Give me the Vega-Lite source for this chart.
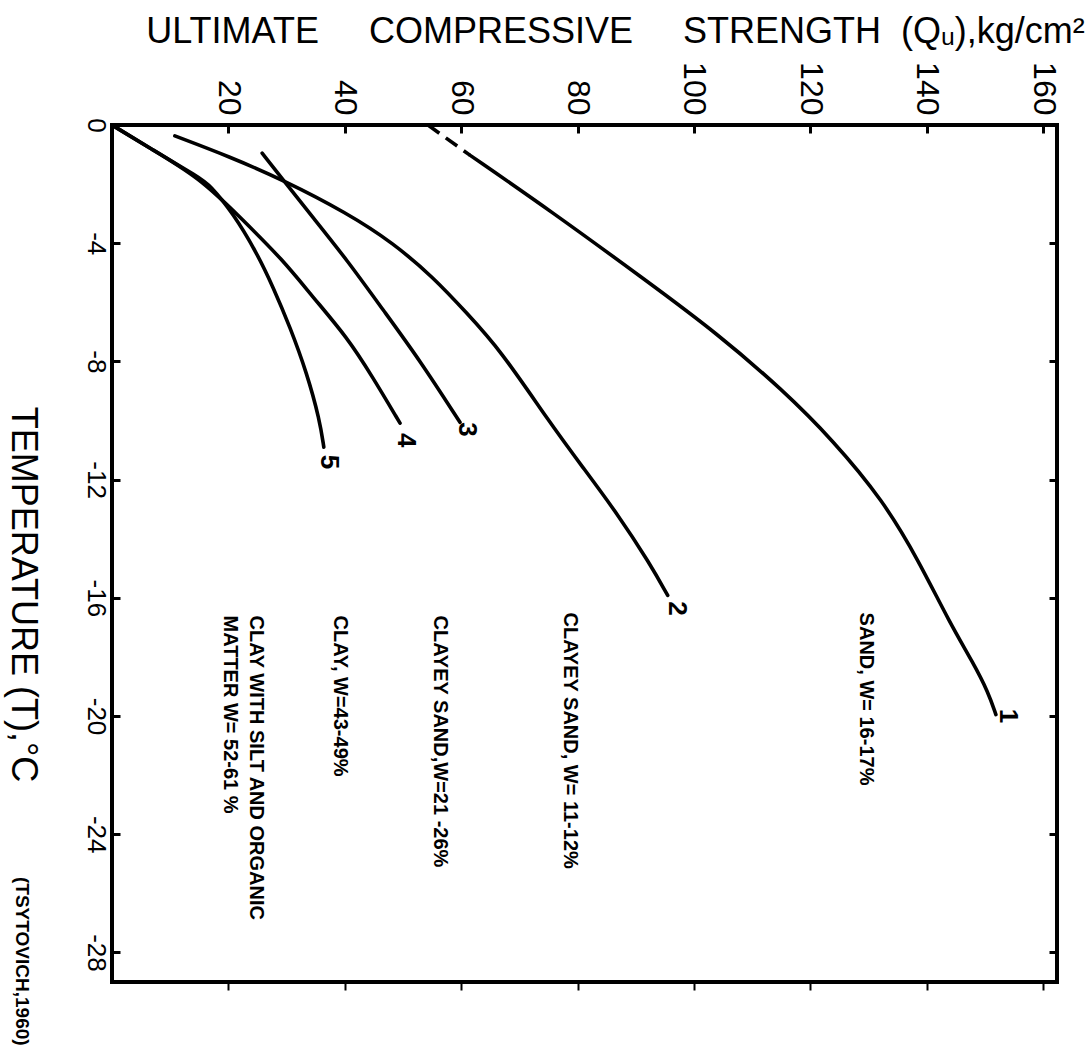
{
  "$schema": "https://vega.github.io/schema/vega-lite/v6.json",
  "width": 945,
  "height": 857,
  "autosize": "none",
  "padding": {"left": 112, "top": 125, "right": 35, "bottom": 74},
  "background": "white",
  "config": {
    "view": {"stroke": "black", "strokeWidth": 4},
    "font": "Liberation Sans",
    "axis": {"labelColor": "black", "titleColor": "black", "tickColor": "black", "grid": false, "domain": false}
  },
  "datasets": {
    "curves": [
      {"c": "1", "i": 0, "Q": 61.5, "T": -1.02},
      {"c": "1", "i": 1, "Q": 75.2, "T": -2.88},
      {"c": "1", "i": 2, "Q": 92.4, "T": -5.35},
      {"c": "1", "i": 3, "Q": 103.9, "T": -7.04},
      {"c": "1", "i": 4, "Q": 115.3, "T": -8.97},
      {"c": "1", "i": 5, "Q": 123.9, "T": -10.67},
      {"c": "1", "i": 6, "Q": 132.5, "T": -12.7},
      {"c": "1", "i": 7, "Q": 138.6, "T": -14.73},
      {"c": "1", "i": 8, "Q": 144.0, "T": -16.86},
      {"c": "1", "i": 9, "Q": 148.0, "T": -18.2},
      {"c": "1", "i": 10, "Q": 150.6, "T": -19.2},
      {"c": "1", "i": 11, "Q": 151.9, "T": -19.95},
      {"c": "2", "i": 0, "Q": 10.8, "T": -0.37},
      {"c": "2", "i": 1, "Q": 20.3, "T": -1.08},
      {"c": "2", "i": 2, "Q": 29.4, "T": -1.86},
      {"c": "2", "i": 3, "Q": 40.4, "T": -2.98},
      {"c": "2", "i": 4, "Q": 48.3, "T": -3.99},
      {"c": "2", "i": 5, "Q": 55.2, "T": -5.15},
      {"c": "2", "i": 6, "Q": 61.0, "T": -6.37},
      {"c": "2", "i": 7, "Q": 66.7, "T": -7.6},
      {"c": "2", "i": 8, "Q": 75.3, "T": -10.09},
      {"c": "2", "i": 9, "Q": 80.9, "T": -11.58},
      {"c": "2", "i": 10, "Q": 86.8, "T": -13.14},
      {"c": "2", "i": 11, "Q": 92.4, "T": -14.83},
      {"c": "2", "i": 12, "Q": 95.5, "T": -15.92},
      {"c": "3", "i": 0, "Q": 25.8, "T": -0.95},
      {"c": "3", "i": 1, "Q": 29.4, "T": -1.86},
      {"c": "3", "i": 2, "Q": 34.5, "T": -3.12},
      {"c": "3", "i": 3, "Q": 40.4, "T": -4.57},
      {"c": "3", "i": 4, "Q": 46.6, "T": -6.26},
      {"c": "3", "i": 5, "Q": 52.9, "T": -7.96},
      {"c": "3", "i": 6, "Q": 59.8, "T": -10.06},
      {"c": "4", "i": 0, "Q": 0, "T": 0},
      {"c": "4", "i": 1, "Q": 6.5, "T": -0.78},
      {"c": "4", "i": 2, "Q": 15.1, "T": -1.79},
      {"c": "4", "i": 3, "Q": 22.0, "T": -3.12},
      {"c": "4", "i": 4, "Q": 29.4, "T": -4.57},
      {"c": "4", "i": 5, "Q": 34.5, "T": -5.82},
      {"c": "4", "i": 6, "Q": 40.4, "T": -7.18},
      {"c": "4", "i": 7, "Q": 44.8, "T": -8.53},
      {"c": "4", "i": 8, "Q": 49.5, "T": -10.09},
      {"c": "5", "i": 0, "Q": 0, "T": 0},
      {"c": "5", "i": 1, "Q": 6.5, "T": -0.78},
      {"c": "5", "i": 2, "Q": 15.1, "T": -1.79},
      {"c": "5", "i": 3, "Q": 16.8, "T": -2.03},
      {"c": "5", "i": 4, "Q": 20.8, "T": -2.98},
      {"c": "5", "i": 5, "Q": 24.9, "T": -4.33},
      {"c": "5", "i": 6, "Q": 27.7, "T": -5.49},
      {"c": "5", "i": 7, "Q": 30.6, "T": -6.84},
      {"c": "5", "i": 8, "Q": 33.5, "T": -8.4},
      {"c": "5", "i": 9, "Q": 35.7, "T": -9.99},
      {"c": "5", "i": 10, "Q": 36.4, "T": -10.9}
    ],
    "dashed": [
      {"c": "1", "i": 0, "Q": 54.3, "T": 0},
      {"c": "1", "i": 1, "Q": 61.5, "T": -1.02}
    ],
    "labels": [
      {"label": "SAND, W= 16-17%", "Q": 129.5, "T": -16.5},
      {"label": "CLAYEY SAND, W= 11-12%", "Q": 78.7, "T": -16.5},
      {"label": "CLAYEY SAND,W=21 -26%", "Q": 56.4, "T": -16.6},
      {"label": "CLAY, W=43-49%", "Q": 39.2, "T": -16.6},
      {"label": "CLAY WITH SILT AND ORGANIC", "Q": 24.7, "T": -16.6},
      {"label": "MATTER  W= 52-61 %", "Q": 20.3, "T": -16.6}
    ],
    "numbers": [
      {"label": "1", "Q": 154.0, "T": -20.0},
      {"label": "2", "Q": 97.1, "T": -16.36},
      {"label": "3", "Q": 61.0, "T": -10.3},
      {"label": "4", "Q": 50.5, "T": -10.67},
      {"label": "5", "Q": 37.3, "T": -11.4}
    ],
    "source": [
      {"label": "(TSYTOVICH,1960)", "Q": -15.5, "T": -28.3}
    ]
  },
  "layer": [
    {
      "data": {"name": "curves"},
      "mark": {"type": "line", "color": "black", "strokeWidth": 3.6, "strokeCap": "round", "interpolate": "basis"},
      "encoding": {
        "x": {
          "field": "Q", "type": "quantitative",
          "scale": {"domain": [0, 162.4], "nice": false, "zero": false},
          "axis": {
            "orient": "top", "values": [20, 40, 60, 80, 100, 120, 140, 160],
            "labelAngle": 90, "labelAlign": "right", "labelBaseline": "middle",
            "labelFontSize": 32, "labelPadding": 18, "tickSize": -8, "tickWidth": 3,
            "title": "ULTIMATE\u00a0\u00a0\u00a0\u00a0\u00a0COMPRESSIVE\u00a0\u00a0\u00a0\u00a0\u00a0STRENGTH\u00a0\u00a0(Q\u1d64),kg/cm\u00b2",
            "titleFontSize": 36, "titleFontWeight": "normal", "titleAngle": 0,
            "titleX": 503, "titleY": -83, "titleAlign": "center", "titleBaseline": "alphabetic"
          }
        },
        "y": {
          "field": "T", "type": "quantitative",
          "scale": {"domain": [-29, 0], "nice": false, "zero": false},
          "axis": {
            "orient": "left", "values": [0, -4, -8, -12, -16, -20, -24, -28],
            "labelExpr": "'' + datum.value",
            "labelAngle": 90, "labelAlign": "center", "labelBaseline": "top",
            "labelFontSize": 26, "labelPadding": 12, "tickSize": -8, "tickWidth": 3,
            "title": "TEMPERATURE (T),°C",
            "titleFontSize": 36, "titleFontWeight": "normal", "titleAngle": 90,
            "titleX": -90, "titleY": 469, "titleAlign": "center", "titleBaseline": "middle"
          }
        },
        "detail": {"field": "c"},
        "order": {"field": "i", "type": "quantitative"}
      }
    },
    {
      "data": {"name": "dashed"},
      "mark": {"type": "line", "color": "black", "strokeWidth": 3.6, "strokeDash": [14, 8]},
      "encoding": {
        "x": {
          "field": "Q", "type": "quantitative",
          "axis": {"orient": "bottom", "values": [20, 40, 60, 80, 100, 120, 140, 160], "labels": false, "tickSize": 8, "tickWidth": 2, "title": null}
        },
        "y": {
          "field": "T", "type": "quantitative",
          "axis": {"orient": "right", "values": [-4, -8, -12, -16, -20, -24, -28], "labels": false, "tickSize": -8, "tickWidth": 3, "title": null}
        },
        "order": {"field": "i", "type": "quantitative"}
      }
    },
    {
      "data": {"name": "labels"},
      "mark": {"type": "text", "angle": 90, "align": "left", "baseline": "middle", "fontWeight": "bold", "fontSize": 20, "color": "black"},
      "encoding": {
        "x": {"field": "Q", "type": "quantitative", "axis": null},
        "y": {"field": "T", "type": "quantitative", "axis": null},
        "text": {"field": "label"}
      }
    },
    {
      "data": {"name": "numbers"},
      "mark": {"type": "text", "angle": 90, "align": "center", "baseline": "middle", "fontWeight": "bold", "fontSize": 26, "color": "black"},
      "encoding": {
        "x": {"field": "Q", "type": "quantitative", "axis": null},
        "y": {"field": "T", "type": "quantitative", "axis": null},
        "text": {"field": "label"}
      }
    },
    {
      "data": {"name": "source"},
      "mark": {"type": "text", "angle": 90, "align": "center", "baseline": "middle", "fontWeight": "bold", "fontSize": 19, "color": "black"},
      "encoding": {
        "x": {"field": "Q", "type": "quantitative", "axis": null},
        "y": {"field": "T", "type": "quantitative", "axis": null},
        "text": {"field": "label"}
      }
    }
  ],
  "resolve": {"axis": {"x": "independent", "y": "independent"}}
}
